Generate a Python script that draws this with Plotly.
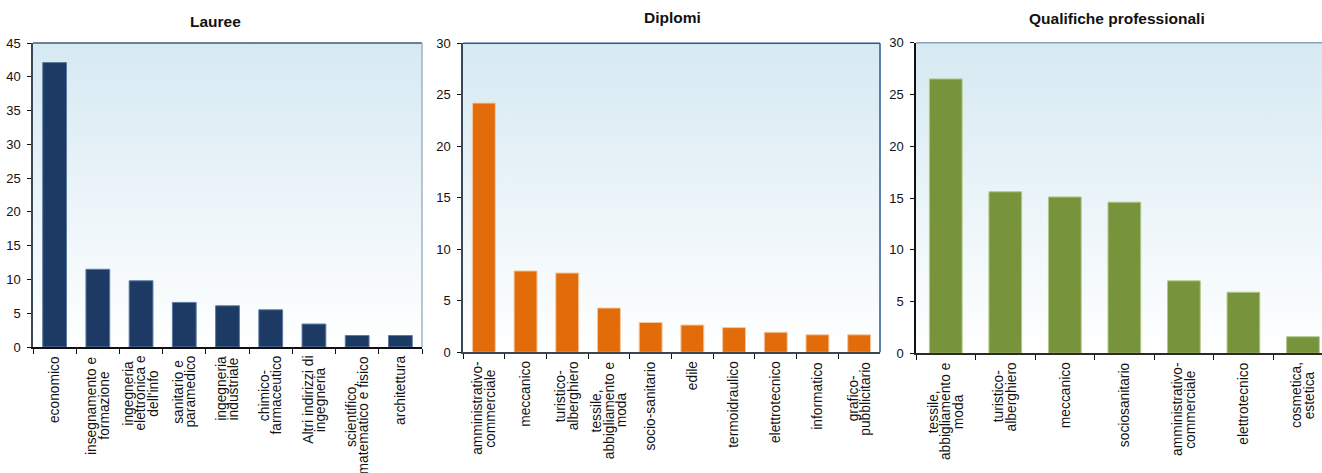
import base64
import plotly.graph_objects as go

# --- data -------------------------------------------------------------
lauree_cat = [
    "economico",
    "insegnamento e<br>formazione",
    "ingegneria<br>elettronica e<br>dell'info",
    "sanitario e<br>paramedico",
    "ingegneria<br>industriale",
    "chimico-<br>farmaceutico",
    "Altri indirizzi di<br>ingegneria",
    "scientifico,<br>matematico e fisico",
    "architettura",
]
lauree_val = [42.1, 11.5, 9.8, 6.6, 6.1, 5.5, 3.4, 1.7, 1.7]

diplomi_cat = [
    "amministrativo-<br>commerciale",
    "meccanico",
    "turistico-<br>alberghiero",
    "tessile,<br>abbigliamento e<br>moda",
    "socio-sanitario",
    "edile",
    "termoidraulico",
    "elettrotecnico",
    "informatico",
    "grafico-<br>pubblicitario",
]
diplomi_val = [24.2, 7.9, 7.7, 4.3, 2.9, 2.65, 2.4, 1.95, 1.7, 1.7]

qualifiche_cat = [
    "tessile,<br>abbigliamento e<br>moda",
    "turistico-<br>alberghiero",
    "meccanico",
    "sociosanitario",
    "amministrativo-<br>commerciale",
    "elettrotecnico",
    "cosmetica,<br>estetica",
]
qualifiche_val = [26.5, 15.6, 15.1, 14.6, 7.0, 5.9, 1.6]

titles = ["Lauree", "Diplomi", "Qualifiche professionali"]

# --- layout settings --------------------------------------------------
W, H = 1322, 473
FONT = "Liberation Sans, Arial, sans-serif"
LABEL_SIZE = 13.8
LABEL_LINE_GAP = 12.5          # distance between lines of a rotated category label
PLOTLY_LINE_GAP = 1.3 * LABEL_SIZE

panels = [
    dict(cat=lauree_cat, val=lauree_val, color="#1c3a63", edge="#5c7aa0",
         xdom=(33 / W, 422 / W), ydom=(1 - 347 / H, 1 - 43 / H),
         yrange=[0, 45], xrange=[-0.5, len(lauree_cat) - 0.5],
         yline="#3b4656", xline="#111111",
         top="#3f5a7a", right="#9db3c9",
         title_xy=(215 / W, 1 - 22 / H)),
    dict(cat=diplomi_cat, val=diplomi_val, color="#e36c0a", edge="#f6c9a4",
         xdom=(463 / W, 880 / W), ydom=(1 - 352.3 / H, 1 - 43.3 / H),
         yrange=[0, 30], xrange=[-0.5, len(diplomi_cat) - 0.5],
         yline="#3b4656", xline="#3c4650",
         top="#2b579a", right="#2b579a",
         title_xy=(672 / W, 1 - 18 / H)),
    dict(cat=qualifiche_cat, val=qualifiche_val, color="#77933c", edge="#b3c98a",
         xdom=(916 / W, 1.0), ydom=(1 - 353.3 / H, 1 - 42.7 / H),
         yrange=[0, 30], xrange=[-0.5, 6.32],
         yline="#111111", xline="#2a2a2a",
         top="#8ea2b8", right=None,
         title_xy=(1117 / W, 1 - 18.5 / H)),
]

# vertical light-blue to white gradient used as plot background
svg = (
    '<svg xmlns="http://www.w3.org/2000/svg" width="10" height="100" preserveAspectRatio="none">'
    '<defs><linearGradient id="g" x1="0" y1="0" x2="0" y2="1">'
    '<stop offset="0" stop-color="#d6e9f2"/><stop offset="1" stop-color="#ffffff"/>'
    '</linearGradient></defs><rect width="10" height="100" fill="url(#g)"/></svg>'
)
grad_src = "data:image/svg+xml;base64," + base64.b64encode(svg.encode()).decode()

HIDDEN = "<span style='color:rgba(0,0,0,0)'>{}</span>"


def category_label_annotations(labels, xa, ya):
    """Rotated, centred multi-line labels under each category with tight line spacing.

    Each visible line is drawn in its own annotation that carries the whole label
    (other lines transparent) so the line stays centred on the longest one."""
    out = []
    for k, label in enumerate(labels):
        lines = label.split("<br>")
        n = len(lines)
        for j in range(n):
            text = "<br>".join(
                ln if idx == j else HIDDEN.format(ln) for idx, ln in enumerate(lines)
            )
            off = j - (n - 1) / 2
            out.append(dict(
                text=text, xref=xa, yref=f"{ya} domain", x=k, y=0,
                xanchor="center", yanchor="top", yshift=-7,
                xshift=off * (LABEL_LINE_GAP - PLOTLY_LINE_GAP),
                textangle=-90, align="center", showarrow=False,
                font=dict(family=FONT, size=LABEL_SIZE, color="#111111"),
            ))
    return out


fig = go.Figure()
images, shapes, annotations = [], [], []

for i, p in enumerate(panels, start=1):
    xa = "x" if i == 1 else f"x{i}"
    ya = "y" if i == 1 else f"y{i}"
    fig.add_trace(go.Bar(
        x=p["cat"], y=p["val"], xaxis=xa, yaxis=ya,
        width=0.55, marker=dict(color=p["color"], line=dict(color=p["edge"], width=1)),
        showlegend=False, hoverinfo="y",
    ))
    sfx = "" if i == 1 else str(i)
    fig.update_layout(**{
        f"xaxis{sfx}": dict(
            domain=list(p["xdom"]), anchor=ya, range=p["xrange"],
            type="category", tickson="boundaries", ticks="outside", ticklen=5,
            tickcolor="#111111", tickwidth=1, showticklabels=False, automargin=False,
            showline=True, linecolor=p["xline"], linewidth=1.5,
            showgrid=False, zeroline=False,
        ),
        f"yaxis{sfx}": dict(
            domain=list(p["ydom"]), anchor=xa, range=p["yrange"], dtick=5,
            ticks="outside", ticklen=4, tickcolor="#111111", tickwidth=1,
            showline=True, linecolor=p["yline"], linewidth=1.5, automargin=False,
            showgrid=False, zeroline=False, ticklabelstandoff=4,
            tickfont=dict(family=FONT, size=13, color="#111111"),
        ),
    })
    images.append(dict(
        source=grad_src, xref=f"{xa} domain", yref=f"{ya} domain",
        x=0, y=1, sizex=1, sizey=1, xanchor="left", yanchor="top",
        sizing="stretch", layer="below",
    ))
    shapes.append(dict(type="line", xref=f"{xa} domain", yref=f"{ya} domain",
                       x0=0, x1=1, y0=1, y1=1, line=dict(color=p["top"], width=1.5)))
    if p["right"]:
        shapes.append(dict(type="line", xref=f"{xa} domain", yref=f"{ya} domain",
                           x0=1, x1=1, y0=0, y1=1, line=dict(color=p["right"], width=1.5)))
    annotations.append(dict(
        text=f"<b>{titles[i - 1]}</b>", xref="paper", yref="paper",
        x=p["title_xy"][0], y=p["title_xy"][1], xanchor="center", yanchor="middle",
        showarrow=False, font=dict(family=FONT, size=15.5, color="#111111"),
    ))
    annotations.extend(category_label_annotations(p["cat"], xa, ya))

fig.update_layout(
    template="none",
    width=W, height=H,
    margin=dict(l=0, r=0, t=0, b=0, pad=0),
    paper_bgcolor="white", plot_bgcolor="rgba(0,0,0,0)",
    images=images, shapes=shapes, annotations=annotations,
    bargap=0.45,
)

fig.write_html("out.html")
